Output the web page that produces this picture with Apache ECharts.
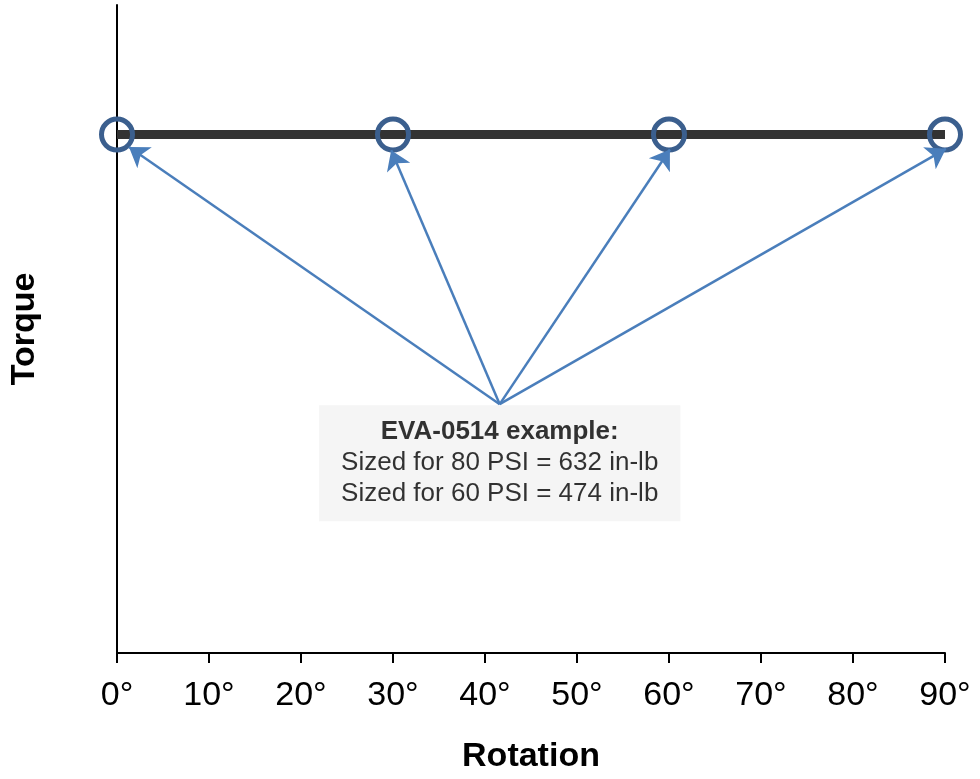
<!DOCTYPE html>
<html>
<head>
<meta charset="utf-8">
<script src="https://cdn.jsdelivr.net/npm/echarts@6/dist/echarts.min.js"></script>
<style>
html,body{margin:0;padding:0;background:#fff;}
#chart{width:980px;height:779px;}
</style>
</head>
<body>
<div id="chart"></div>
<script>
// Data
const rotationTicks = [0, 10, 20, 30, 40, 50, 60, 70, 80, 90];
const circleAngles = [0, 30, 60, 90];
const circleTorque = [80, 80, 80, 80];
const annotationAnchor = [41.6, 38.4];
const arrowTips = [[1.3, 78.1], [29.8, 77.6], [60.1, 77.7], [90.1, 77.8]];
const annotationTitle = 'EVA-0514 example:';
const annotationLines = ['Sized for 80 PSI = 632 in-lb', 'Sized for 60 PSI = 474 in-lb'];

const FONT = 'Arial, "Liberation Sans", sans-serif';
const chart = echarts.init(document.getElementById('chart'), null, {renderer: 'canvas'});

const lineData = circleAngles.map((a, i) => [a, circleTorque[i]]);
const arrowData = arrowTips.map(t => ({coords: [annotationAnchor, t]}));

const option = {
  backgroundColor: '#ffffff',
  animation: false,
  textStyle: {fontFamily: FONT},
  grid: {left: 117, right: 35, top: 5, bottom: 126},
  xAxis: {
    type: 'value',
    min: rotationTicks[0],
    max: rotationTicks[rotationTicks.length - 1],
    interval: 10,
    name: 'Rotation',
    nameLocation: 'middle',
    nameGap: 87,
    nameTextStyle: {fontFamily: FONT, fontSize: 34, fontWeight: 'bold', color: '#000'},
    axisLine: {show: true, lineStyle: {color: '#000', width: 2}},
    axisTick: {show: true, inside: false, length: 10, lineStyle: {color: '#000', width: 2}},
    axisLabel: {formatter: '{value}°', fontFamily: FONT, fontSize: 34, color: '#000', margin: 26},
    splitLine: {show: false}
  },
  yAxis: {
    type: 'value',
    min: 0,
    max: 100,
    name: 'Torque',
    nameLocation: 'middle',
    nameRotate: 90,
    nameGap: 75,
    nameTextStyle: {fontFamily: FONT, fontSize: 34, fontWeight: 'bold', color: '#000'},
    axisLine: {show: true, lineStyle: {color: '#000', width: 2}},
    axisTick: {show: false},
    axisLabel: {show: false},
    splitLine: {show: false}
  },
  series: [
    {
      type: 'line',
      data: lineData,
      lineStyle: {color: '#333333', width: 9, cap: 'butt'},
      symbol: 'circle',
      symbolSize: 31,
      itemStyle: {color: 'rgba(0,0,0,0)', borderColor: '#3B5F8E', borderWidth: 5},
      z: 2
    },
    {
      type: 'lines',
      coordinateSystem: 'cartesian2d',
      data: arrowData,
      symbol: ['none', 'arrow'],
      symbolSize: 19,
      lineStyle: {color: '#4A7EBB', width: 2.5, opacity: 1},
      z: 3
    },
    {
      type: 'scatter',
      data: [annotationAnchor],
      symbolSize: 0,
      itemStyle: {color: 'rgba(0,0,0,0)'},
      label: {
        show: true,
        position: 'bottom',
        distance: 1,
        color: '#000',
        fontFamily: FONT,
        fontSize: 26,
        backgroundColor: '#F2F2F2',
        padding: [11, 22, 12, 22],
        align: 'center',
        formatter: () => '{b|' + annotationTitle + '}\n' + annotationLines.map(l => '{n|' + l + '}').join('\n'),
        rich: {
          b: {fontFamily: FONT, fontSize: 26, fontWeight: 'bold', color: '#000', lineHeight: 31, align: 'center'},
          n: {fontFamily: FONT, fontSize: 26, color: '#000', lineHeight: 31, align: 'center'}
        }
      },
      z: 1
    }
  ]
};
chart.setOption(option);
</script>
</body>
</html>
